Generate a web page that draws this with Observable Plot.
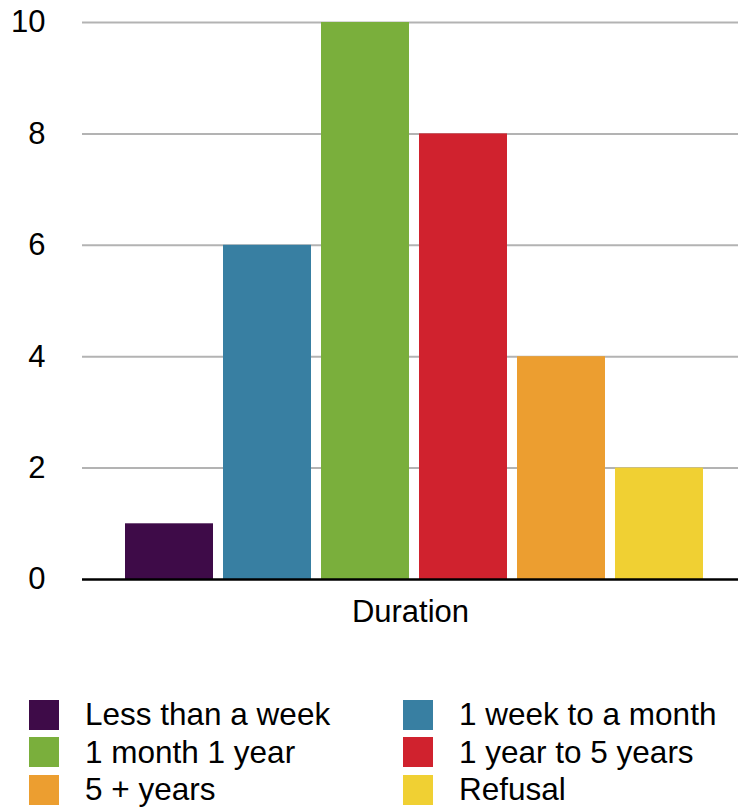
<!DOCTYPE html>
<html>
<head>
<meta charset="utf-8">
<script src="https://cdn.jsdelivr.net/npm/d3@7"></script>
<script src="https://cdn.jsdelivr.net/npm/@observablehq/plot@0.6"></script>
<style>
  html, body { margin: 0; padding: 0; background: #fff; }
  body { font-family: "Liberation Sans", Arial, Helvetica, sans-serif; width: 738px; }
  #legend { display: grid; grid-template-columns: 374px 364px; margin-top: 46px; }
  .item { display: flex; align-items: center; height: 37.5px; font-size: 31.5px; color: #000; white-space: nowrap; }
  .sw { width: 30px; height: 30px; margin-left: 29px; margin-right: 26px; flex: none; }
</style>
</head>
<body>
<div id="chart"></div>
<div id="legend"></div>
<script>
const categories = ["Less than a week", "1 week to a month", "1 month 1 year", "1 year to 5 years", "5 + years", "Refusal"];
const values = [1, 6, 10, 8, 4, 2];
const palette = ["#3e0b48", "#387fa2", "#7aaf3c", "#d0222e", "#ec9e30", "#f0d033"];
const yTicks = [0, 2, 4, 6, 8, 10];
const axisLabel = "Duration";

const data = categories.map((c, i) => ({category: c, value: values[i]}));

const chart = Plot.plot({
  width: 738,
  height: 650,
  marginTop: 22,
  marginBottom: 71,
  marginLeft: 82,
  marginRight: 0,
  style: {fontFamily: "'Liberation Sans', Arial, Helvetica, sans-serif", fontSize: "31px", color: "#000"},
  x: {domain: categories, padding: 0.1, insetLeft: 33, insetRight: 25, axis: null},
  y: {domain: [0, 10]},
  color: {domain: categories, range: palette},
  marks: [
    Plot.ruleY(yTicks.filter(d => d > 0), {stroke: "#b3b3b3", strokeWidth: 2}),
    Plot.barY(data, {x: "category", y: "value", fill: "category"}),
    Plot.ruleY([0], {stroke: "#000", strokeWidth: 2.5}),
    Plot.axisY({ticks: yTicks, tickSize: 0, tickPadding: 37, label: null, fontSize: 31}),
    Plot.text([axisLabel], {frameAnchor: "bottom", dy: 42, fontSize: 31, fill: "#000"})
  ]
});
document.getElementById("chart").appendChild(chart);

const legend = document.getElementById("legend");
categories.forEach((c, i) => {
  const item = document.createElement("div");
  item.className = "item";
  const sw = document.createElement("span");
  sw.className = "sw";
  sw.style.background = palette[i];
  const t = document.createElement("span");
  t.textContent = c;
  item.appendChild(sw);
  item.appendChild(t);
  legend.appendChild(item);
});
</script>
</body>
</html>
